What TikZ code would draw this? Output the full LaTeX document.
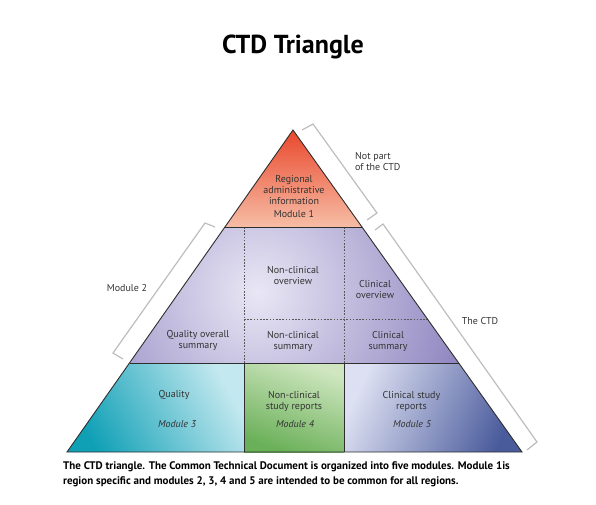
\documentclass[tikz,border=0pt]{standalone}
\usepackage{fontspec}
\setmainfont{PT Sans}
\definecolor{txt}{HTML}{333333}
\definecolor{edge}{HTML}{2E2E2E}
\definecolor{brk}{HTML}{BDBDBD}
\definecolor{mOneTop}{HTML}{E9482C}
\definecolor{mOneBot}{HTML}{F7BDA6}
\definecolor{mTwoIn}{HTML}{E9E7F5}
\definecolor{mTwoOut}{HTML}{7064AE}
\definecolor{mThrDark}{HTML}{10A0B6}
\definecolor{mThrLight}{HTML}{C3E8EF}
\definecolor{mFouLight}{HTML}{CFE6C0}
\definecolor{mFouDark}{HTML}{6AB058}
\definecolor{mFivLight}{HTML}{DDE0F2}
\definecolor{mFivDark}{HTML}{4A5B9C}
\begin{document}
\begin{tikzpicture}[x=1pt,y=-1pt,
  lbl/.style={font=\fontsize{10}{11}\selectfont, text=txt, align=center, inner sep=0pt},
  bracket/.style={draw=brk, line width=1.2pt, line join=miter},
  outline/.style={draw=edge, line width=0.9pt},
  divider/.style={draw=edge!80, line width=0.8pt, dash pattern=on 1.6pt off 1.6pt}]
\useasboundingbox (0,0) rectangle (596,505);

% key points
\coordinate (A) at (293,130);
\coordinate (L1) at (225,227);
\coordinate (R1) at (362,227);
\coordinate (L2) at (129.5,363);
\coordinate (R2) at (458.5,363);
\coordinate (BL) at (67,452);
\coordinate (BR) at (522,452);
\coordinate (Ma) at (244,227);
\coordinate (Mb) at (344,227);
\coordinate (Na) at (244,363);
\coordinate (Nb) at (344,363);
\coordinate (Pa) at (244,452);
\coordinate (Pb) at (344,452);
\coordinate (Q) at (244,319);
\coordinate (Qr) at (427.5,319);

% Module 1
\shade[top color=mOneTop, bottom color=mOneBot] (A) -- (R1) -- (L1) -- cycle;
% Module 2
\begin{scope}
\clip (L1) -- (R1) -- (R2) -- (L2) -- cycle;
\shade[inner color=mTwoIn, outer color=mTwoOut] (258,292) circle (285);
\end{scope}
% Module 3
\shade[top color=mThrLight, bottom color=mThrDark, shading angle=-60] (L2) -- (Na) -- (Pa) -- (BL) -- cycle;
% Module 4
\shade[top color=mFouLight, bottom color=mFouDark, shading angle=-20] (Na) -- (Nb) -- (Pb) -- (Pa) -- cycle;
% Module 5
\shade[top color=mFivDark, bottom color=mFivLight, shading angle=-115] (Nb) -- (R2) -- (BR) -- (Pb) -- cycle;

% dashed dividers in module 2
\draw[divider] (Ma) -- (Na);
\draw[divider] (Mb) -- (Nb);
\draw[divider] (Q) -- (Qr);

% solid lines
\draw[outline] (L1) -- (R1);
\draw[outline] (L2) -- (R2);
\draw[outline] (Na) -- (Pa);
\draw[outline] (Nb) -- (Pb);
\draw[outline, line join=miter] (A) -- (BR) -- (BL) -- cycle;

% brackets
\draw[bracket] (302,130) -- (313,124) -- (377,213) -- (367,220);
\draw[bracket] (375,230) -- (383,224) -- (537,442) -- (527,450);
\draw[bracket] (215,227) -- (205,223) -- (113,353) -- (123,359);

% title
\node[font=\bfseries\fontsize{26}{30}\selectfont, text=black, inner sep=0pt] (title) at (293,47) {CTD Triangle};

% module 1 text
\node[lbl] (reg) at (294,190) {Regional\\administrative\\information};
\node[lbl] (m1) at (294,214) {Module 1};

% module 2 texts
\node[lbl] (nco) at (293,276) {Non-clinical\\overview};
\node[lbl] (co) at (375,289.5) {Clinical\\overview};
\node[lbl] (qos) at (198,340.5) {Quality overall\\summary};
\node[lbl] (ncs) at (293,341.5) {Non-clinical\\summary};
\node[lbl] (cs) at (388,341) {Clinical\\summary};

% bottom texts
\node[lbl] (q) at (174,395) {Quality};
\node[lbl] (m3) at (177,424) {\itshape Module 3};
\node[lbl] (ncsr) at (294,401) {Non-clinical\\study reports};
\node[lbl] (m4) at (295,424) {\itshape Module 4};
\node[lbl] (csr) at (411.5,401) {Clinical study\\reports};
\node[lbl] (m5) at (412,424) {\itshape Module 5};

% bracket labels
\node[lbl, align=left, anchor=west] (np) at (355,162) {Not part\\of the CTD};
\node[lbl] (ctd) at (480,321) {The CTD};
\node[lbl] (m2) at (127,288) {Module 2};

% caption
\node[font=\bfseries\fontsize{11}{15}\selectfont, text=black, align=left, anchor=north west, inner sep=0pt] (cap) at (63,461.5)
 {The CTD triangle. The Common Technical Document is organized into five modules. Module 1is\\
  region specific and modules 2, 3, 4 and 5 are intended to be common for all regions.};
\end{tikzpicture}
\end{document}
